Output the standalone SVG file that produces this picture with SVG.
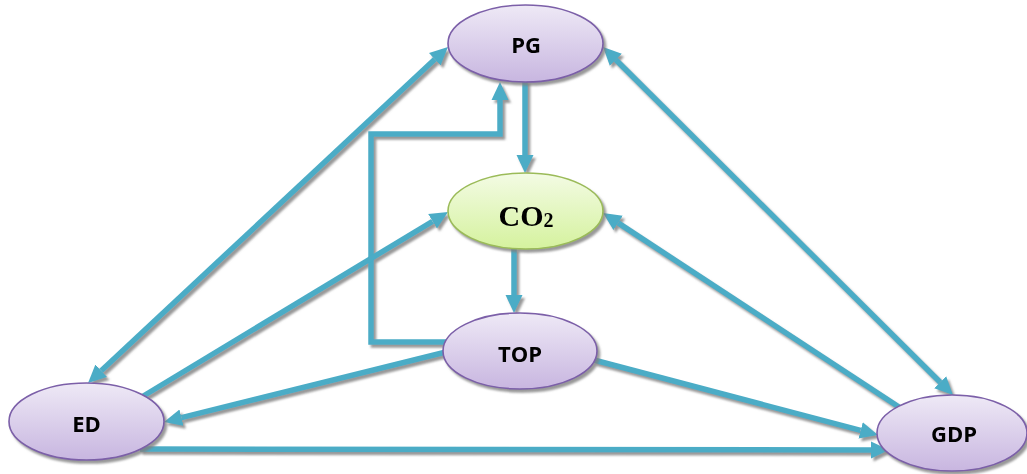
<svg xmlns="http://www.w3.org/2000/svg" width="1027" height="474" viewBox="0 0 1027 474">
<defs>
<linearGradient id="gPurple" x1="0" y1="0" x2="0" y2="1">
<stop offset="0" stop-color="#EEE9F6"/>
<stop offset="1" stop-color="#C8B6E0"/>
</linearGradient>
<linearGradient id="gGreen" x1="0" y1="0" x2="0" y2="1">
<stop offset="0" stop-color="#F3FBE4"/>
<stop offset="1" stop-color="#D5F29E"/>
</linearGradient>
<filter id="sh" x="-10%" y="-10%" width="130%" height="140%">
<feDropShadow dx="2.5" dy="3" stdDeviation="1.2" flood-color="#7f7f7f" flood-opacity="0.8"/>
</filter>
<marker id="ah" markerUnits="userSpaceOnUse" markerWidth="20" markerHeight="18" viewBox="0 -9 20 18" refX="0" refY="0" orient="auto-start-reverse">
<path d="M0,-8.5 L18,0 L0,8.5 z" fill="#4BACC6"/>
</marker>
<style>
.con{fill:none;stroke:#4BACC6;stroke-width:5.5;stroke-linejoin:miter}
.arr{marker-end:url(#ah)}
.dbl{marker-start:url(#ah);marker-end:url(#ah)}
.np{fill:url(#gPurple);stroke:#7B5FA8;stroke-width:1.6}
.ng{fill:url(#gGreen);stroke:#9BBB59;stroke-width:1.6}
.lbl{font-family:"Open Sans","DejaVu Sans",sans-serif;font-weight:700;font-size:22px;fill:#000;text-anchor:middle}
.co{font-family:"Liberation Serif","Times New Roman",serif;font-weight:700;font-size:30px;fill:#000;text-anchor:middle}
</style>
</defs>
<g id="connectors" filter="url(#sh)">
<path class="con dbl" d="M101.2,370.7 L434.8,59.3"/>
<path class="con dbl" d="M615.8,59.7 L940.2,382.3"/>
<path class="con arr" d="M525,80 L525,155"/>
<path class="con arr" d="M446,342 L371,342 L371,134 L500,134 L500,100"/>
<path class="con arr" d="M140,398 L432.6,221.3"/>
<path class="con arr" d="M902,409 L618.1,222.9"/>
<path class="con arr" d="M514,248 L514,295"/>
<path class="con arr" d="M446,352 L181.5,417.7"/>
<path class="con arr" d="M594,360 L860.6,430.4"/>
<path class="con arr" d="M140,449 L871,450"/>
</g>
<g id="PG" filter="url(#sh)">
<ellipse class="np" cx="525.5" cy="43.5" rx="77.5" ry="38.5"/>
<text class="lbl" x="526" y="53">PG</text>
</g>
<g id="CO2" filter="url(#sh)">
<ellipse class="ng" cx="525.5" cy="211" rx="77.5" ry="38"/>
<text class="co" x="526" y="226">CO<tspan font-size="20" dy="1">2</tspan></text>
</g>
<g id="TOP" filter="url(#sh)">
<ellipse class="np" cx="520" cy="351" rx="77" ry="38"/>
<text class="lbl" x="520" y="362">TOP</text>
</g>
<g id="ED" filter="url(#sh)">
<ellipse class="np" cx="86.5" cy="421.5" rx="77.5" ry="38.5"/>
<text class="lbl" x="86.5" y="432">ED</text>
</g>
<g id="GDP" filter="url(#sh)">
<ellipse class="np" cx="952" cy="433" rx="75" ry="38"/>
<text class="lbl" x="954" y="442">GDP</text>
</g>
</svg>
